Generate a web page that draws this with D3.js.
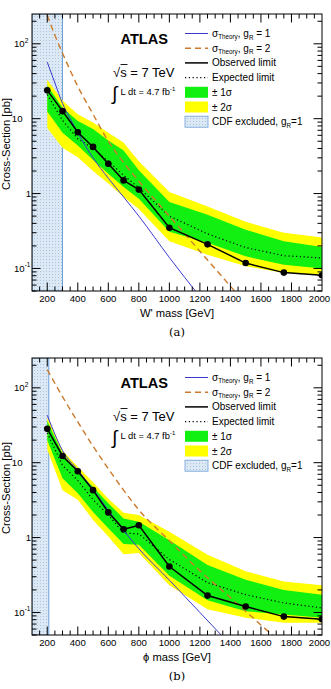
<!DOCTYPE html>
<html><head><meta charset="utf-8">
<script src="https://cdn.jsdelivr.net/npm/d3@7"></script>
<style>
body{margin:0;background:#fff}
svg{display:block}
text{font-family:"Liberation Sans",Arial,Helvetica,sans-serif;fill:#000}
</style>
</head><body>
<svg id="c" width="331" height="689"></svg>
<script>
// ---------------- data ----------------
const massPoints = [200,300,400,500,600,700,800,1000,1250,1500,1750,2000];

// panel (a): W'
const observedA = [23.9,12.6,6.6,4.2,2.5,1.5,1.13,0.35,0.21,0.118,0.088,0.081];
const expectedA = [21,9.5,5.4,4.0,2.7,1.75,1.2,0.5,0.29,0.19,0.148,0.138];
const plus1A   = [28,14,9.3,7.3,5.1,3.75,2.05,0.77,0.52,0.33,0.23,0.193];
const minus1A  = [12.5,6.5,4.4,2.8,1.84,1.22,0.85,0.31,0.22,0.145,0.112,0.10];
const plus2A   = [33,17.5,11.5,8.9,6.5,4.8,2.7,1.05,0.67,0.42,0.30,0.26];
const minus2A  = [7.5,4.1,3.05,2.0,1.36,0.9,0.62,0.23,0.152,0.107,0.087,0.083];
const theory1MassA = [200,250,300,350,400,500,600,700,800,1000,1200];
const theory1A     = [57,30,16,10,6.5,3.0,1.6,0.9,0.5,0.14,0.042];
const theory2MassA = [200,250,300,400,500,600,700,800,1000,1200,1400,1500];
const theory2A     = [240,130,75,27,11.5,5.0,2.6,1.46,0.5,0.17,0.058,0.034];
const cdfExcludedMaxA = 300;

// panel (b): phi
const observedB = [28.3,12.3,7.7,4.3,2.17,1.29,1.46,0.41,0.168,0.12,0.088,0.081];
const expectedB = [25,9.2,5.8,3.2,2.0,1.15,1.12,0.51,0.25,0.173,0.134,0.115];
const plus1B   = [36,13.2,7.5,4.75,2.87,1.8,1.63,0.92,0.43,0.274,0.2,0.173];
const minus1B  = [20,6.2,3.9,2.2,1.33,0.82,0.8,0.31,0.145,0.104,0.094,0.085];
const plus2B   = [40,14.6,8.8,5.5,3.3,2.15,2.0,1.2,0.59,0.354,0.26,0.23];
const minus2B  = [15,4.3,3.2,1.72,1.03,0.6,0.62,0.23,0.11,0.085,0.073,0.073];
const theory1MassB = [200,250,300,400,500,600,700,800,1000,1200,1400];
const theory1B     = [43,24,14.5,8.0,4.4,2.3,1.25,0.71,0.27,0.1,0.037];
const theory2MassB = [200,300,400,500,600,700,800,1000,1200,1400,1600,1700];
const theory2B     = [175,76,35,16.6,8.3,4.3,2.34,0.91,0.36,0.158,0.068,0.045];
const cdfExcludedMaxB = 210;

const xMajorTicks = [200,400,600,800,1000,1200,1400,1600,1800,2000];
const yMajorTicks = [0.1,1,10,100];
const legendLabels = ["Observed limit","Expected limit","± 1σ","± 2σ"];

// ---------------- drawing ----------------
const svg = d3.select("#c");
const defs = svg.append("defs");
const pat = defs.append("pattern").attr("id","dots").attr("width",3).attr("height",3)
  .attr("patternUnits","userSpaceOnUse");
pat.append("rect").attr("width",3).attr("height",3).attr("fill","#dce9f5");
pat.append("rect").attr("x",1).attr("y",1).attr("width",1).attr("height",1).attr("fill","#a9c5e2");

const C = {green:"#11f011", yellow:"#ffff00", blue:"#3b3bd0", orange:"#cc7a2e", cdf:"#6d9fd6"};

function panel(cfg){
  const L=32, R=322, T=cfg.top, B=cfg.top+277;
  const x = d3.scaleLinear().domain([100,2000]).range([L,R]);
  const y = d3.scaleLog().domain([0.05,250]).range([B,T]);
  const g = svg.append("g");
  const cid = "clip"+cfg.id;
  defs.append("clipPath").attr("id",cid).append("rect").attr("x",L).attr("y",T).attr("width",R-L).attr("height",B-T);
  const pg = g.append("g").attr("clip-path",`url(#${cid})`);

  // CDF excluded region
  pg.append("rect").attr("x",x(100)).attr("y",T).attr("width",x(cfg.cdfMax)-x(100)).attr("height",B-T)
    .attr("fill","url(#dots)").attr("stroke",C.cdf).attr("stroke-width",1);

  const band = (hi,lo)=>d3.area().x((d,i)=>x(massPoints[i])).y0((d,i)=>y(lo[i])).y1((d,i)=>y(hi[i]));
  pg.append("path").datum(cfg.p2).attr("d",band(cfg.p2,cfg.m2)).attr("fill",C.yellow);
  pg.append("path").datum(cfg.p1).attr("d",band(cfg.p1,cfg.m1)).attr("fill",C.green);

  const line = (ms)=>d3.line().x((d,i)=>x(ms[i])).y(d=>y(d));
  pg.append("path").datum(cfg.exp).attr("d",line(massPoints)).attr("fill","none")
    .attr("stroke","#000").attr("stroke-width",1.2).attr("stroke-dasharray","1.2,2.6");
  pg.append("path").datum(cfg.t1).attr("d",line(cfg.t1m).curve(d3.curveMonotoneX)).attr("fill","none")
    .attr("stroke",C.blue).attr("stroke-width",1);
  pg.append("path").datum(cfg.t2).attr("d",line(cfg.t2m).curve(d3.curveMonotoneX)).attr("fill","none")
    .attr("stroke",C.orange).attr("stroke-width",1.4).attr("stroke-dasharray","6,4");
  pg.append("path").datum(cfg.obs).attr("d",line(massPoints)).attr("fill","none")
    .attr("stroke","#000").attr("stroke-width",1.5);
  pg.selectAll("circle.m").data(cfg.obs).enter().append("circle")
    .attr("cx",(d,i)=>x(massPoints[i])).attr("cy",d=>y(d)).attr("r",3.3).attr("fill","#000");

  // frame
  g.append("rect").attr("x",L).attr("y",T).attr("width",R-L).attr("height",B-T)
    .attr("fill","none").attr("stroke","#000").attr("stroke-width",1);

  // x ticks
  const tk = g.append("g").attr("stroke","#000").attr("stroke-width",1);
  for(let m=150;m<2000;m+=50){
    const maj = xMajorTicks.includes(m);
    const len = maj?8.5:4.5;
    tk.append("line").attr("x1",x(m)).attr("x2",x(m)).attr("y1",B).attr("y2",B-len);
    tk.append("line").attr("x1",x(m)).attr("x2",x(m)).attr("y1",T).attr("y2",T+len);
  }
  // y ticks
  for(let d=0.01; d<=100; d*=10){
    for(let k=1;k<=9;k++){
      const v=d*k; if(v<0.05||v>250) continue;
      const maj = k===1, len = maj?8.5:4.5;
      tk.append("line").attr("x1",L).attr("x2",L+len).attr("y1",y(v)).attr("y2",y(v));
      tk.append("line").attr("x1",R).attr("x2",R-len).attr("y1",y(v)).attr("y2",y(v));
    }
  }
  // x labels (last one kept inside the window)
  g.selectAll("text.xl").data(xMajorTicks).enter().append("text")
    .attr("x",d=>Math.min(x(d),319.5)).attr("y",B+11).attr("text-anchor","middle").attr("font-size",9.6).text(d=>d);
  // y labels
  yMajorTicks.forEach(v=>{
    const yy = y(v)+3.4;
    if(v===1){ g.append("text").attr("x",31).attr("y",yy).attr("text-anchor","end").attr("font-size",9.6).text("1"); }
    else if(v===10){ g.append("text").attr("x",22.5).attr("y",yy).attr("text-anchor","end").attr("font-size",9.6).text("10"); }
    else {
      const t=g.append("text").attr("x",14).attr("y",yy).attr("font-size",9.6);
      t.append("tspan").text("10");
      t.append("tspan").attr("dy",-4.5).attr("font-size",6.5).text(v===100?"2":"-1");
    }
  });
  // axis titles
  g.append("text").attr("x",(L+R)/2).attr("y",B+26).attr("text-anchor","middle").attr("font-size",11.2).text(cfg.xTitle);
  g.append("text").attr("transform",`translate(10,${T+130}) rotate(-90)`).attr("text-anchor","middle")
    .attr("font-size",11.2).text("Cross-Section [pb]");
  g.append("text").attr("x",(L+R)/2).attr("y",B+45).attr("text-anchor","middle")
    .style("font-family","'DejaVu Serif','Liberation Serif',serif").attr("font-size",11.5).text(cfg.caption);

  // ATLAS label etc
  g.append("text").attr("x",120.5).attr("y",T+30).attr("font-size",14.6).attr("font-weight","bold").text("ATLAS");
  const s = g.append("text").attr("x",113).attr("y",T+62.5).attr("font-size",13);
  s.append("tspan").text("√");
  s.append("tspan").text("s = 7 TeV");
  g.append("line").attr("x1",120.5).attr("x2",127.5).attr("y1",T+50.5).attr("y2",T+50.5).attr("stroke","#000").attr("stroke-width",0.9);
  g.append("text").attr("x",112).attr("y",T+86).attr("font-size",19).text("∫");
  const lt = g.append("text").attr("x",120.5).attr("y",T+81).attr("font-size",9.4);
  lt.append("tspan").text("L dt = 4.7 fb");
  lt.append("tspan").attr("dy",-4).attr("font-size",6).text("-1");

  // legend
  const lx1=185, lx2=208, tx=212;
  const ry = i=>T+19.5+i*14.7;
  const lg = g.append("g");
  lg.append("line").attr("x1",lx1).attr("x2",lx2).attr("y1",ry(0)).attr("y2",ry(0)).attr("stroke",C.blue).attr("stroke-width",1);
  lg.append("line").attr("x1",lx1).attr("x2",lx2).attr("y1",ry(1)).attr("y2",ry(1)).attr("stroke",C.orange).attr("stroke-width",1.4).attr("stroke-dasharray","6,4");
  lg.append("line").attr("x1",lx1).attr("x2",lx2).attr("y1",ry(2)).attr("y2",ry(2)).attr("stroke","#000").attr("stroke-width",1.5);
  lg.append("line").attr("x1",lx1).attr("x2",lx2).attr("y1",ry(3)).attr("y2",ry(3)).attr("stroke","#000").attr("stroke-width",1.2).attr("stroke-dasharray","1.2,2.6");
  lg.append("rect").attr("x",lx1).attr("y",ry(4)-5.5).attr("width",lx2-lx1).attr("height",11).attr("fill",C.green);
  lg.append("rect").attr("x",lx1).attr("y",ry(5)-5.5).attr("width",lx2-lx1).attr("height",11).attr("fill",C.yellow);
  lg.append("rect").attr("x",lx1).attr("y",ry(6)-5.5).attr("width",lx2-lx1).attr("height",11).attr("fill","url(#dots)").attr("stroke",C.cdf).attr("stroke-width",0.8);
  [0,1].forEach(i=>{
    const t=lg.append("text").attr("x",tx).attr("y",ry(i)+3.5).attr("font-size",10);
    t.append("tspan").text("σ");
    t.append("tspan").attr("dy",2).attr("font-size",6.3).text("Theory");
    t.append("tspan").attr("dy",-2).text(", g");
    t.append("tspan").attr("dy",2.5).attr("font-size",6.3).text("R");
    t.append("tspan").attr("dy",-2.5).text(" = "+(i+1));
  });
  legendLabels.forEach((s,i)=>{
    lg.append("text").attr("x",tx).attr("y",ry(i+2)+3.5).attr("font-size",10).text(s);
  });
  const ct=lg.append("text").attr("x",tx).attr("y",ry(6)+3.5).attr("font-size",10);
  ct.append("tspan").text("CDF excluded, g");
  ct.append("tspan").attr("dy",2.5).attr("font-size",6.3).text("R");
  ct.append("tspan").attr("dy",-2.5).text("=1");
}

panel({id:"a", top:14, cdfMax:cdfExcludedMaxA, xTitle:"W' mass [GeV]", caption:"(a)",
  obs:observedA, exp:expectedA, p1:plus1A, m1:minus1A, p2:plus2A, m2:minus2A,
  t1m:theory1MassA, t1:theory1A, t2m:theory2MassA, t2:theory2A});
panel({id:"b", top:358, cdfMax:cdfExcludedMaxB, xTitle:"ϕ mass [GeV]", caption:"(b)",
  obs:observedB, exp:expectedB, p1:plus1B, m1:minus1B, p2:plus2B, m2:minus2B,
  t1m:theory1MassB, t1:theory1B, t2m:theory2MassB, t2:theory2B});
</script>
</body></html>
